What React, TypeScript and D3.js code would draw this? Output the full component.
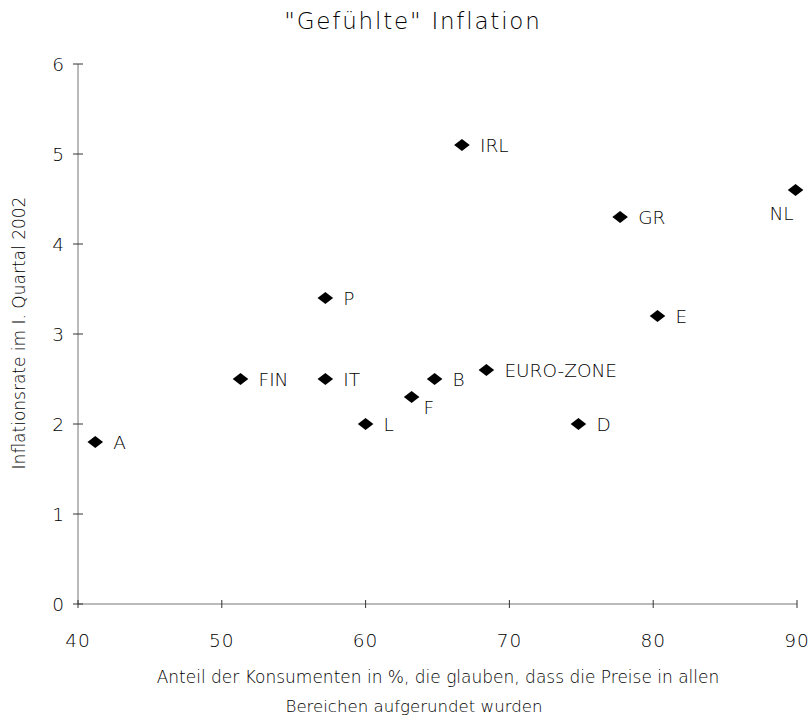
import React from "react";
import * as d3 from "d3";

const countries = ["A", "FIN", "IT", "P", "L", "F", "B", "EURO-ZONE", "IRL", "D", "GR", "E", "NL"];
const perceived = [41.2, 51.3, 57.2, 57.2, 60.0, 63.2, 64.8, 68.4, 66.7, 74.8, 77.7, 80.3, 89.9];
const inflation = [1.8, 2.5, 2.5, 3.4, 2.0, 2.3, 2.5, 2.6, 5.1, 2.0, 4.3, 3.2, 4.6];
const xTicks = [40, 50, 60, 70, 80, 90];
const yTicks = [0, 1, 2, 3, 4, 5, 6];

const FONT = "'DejaVu Sans', sans-serif";
const W = 200;

export default function App() {
  const x = d3.scaleLinear().domain([40, 90]).range([78, 797]);
  const y = d3.scaleLinear().domain([0, 6]).range([604, 64]);
  const diamond = d3.symbol().type(d3.symbolDiamond2).size(128)() as string;

  const labelPos = (name: string, px: number, py: number) => {
    if (name === "NL") return { lx: px - 2, ly: py + 30, anchor: "end" };
    if (name === "F") return { lx: px + 12, ly: py + 17, anchor: "start" };
    return { lx: px + 18, ly: py + 6.5, anchor: "start" };
  };

  return (
    <svg width={809} height={721} style={{ position: "absolute", left: 0, top: 0, background: "#fff" }}>
      <text x={413} y={29} textAnchor="middle" fontFamily={FONT} fontSize={23} fontWeight={W} letterSpacing={1.8} fill="#000">
        "Gefühlte" Inflation
      </text>
      {/* axes */}
      <line x1={x(40)} x2={x(90)} y1={y(0)} y2={y(0)} stroke="#777" strokeWidth={1} />
      <line x1={x(40)} x2={x(40)} y1={y(0)} y2={y(6)} stroke="#777" strokeWidth={1} />
      {xTicks.map((t) => (
        <g key={"x" + t}>
          <line x1={x(t)} x2={x(t)} y1={y(0) - 4} y2={y(0) + 4} stroke="#333" strokeWidth={1} />
          <text x={x(t)} y={y(0) + 43} textAnchor="middle" fontFamily={FONT} fontSize={18.5} fontWeight={W} letterSpacing={1} fill="#000">
            {t}
          </text>
        </g>
      ))}
      {yTicks.map((t) => (
        <g key={"y" + t}>
          <line x1={x(40) - 5} x2={x(40) + 5} y1={y(t)} y2={y(t)} stroke="#333" strokeWidth={1} />
          <text x={x(40) - 14} y={y(t) + 7} textAnchor="end" fontFamily={FONT} fontSize={18.5} fontWeight={W} fill="#000">
            {t}
          </text>
        </g>
      ))}
      <text
        transform="translate(25,333) rotate(-90)"
        textAnchor="middle"
        fontFamily={FONT}
        fontSize={17}
        fontWeight={W}
        fill="#000"
      >
        Inflationsrate im I. Quartal 2002
      </text>
      <text x={438} y={683} textAnchor="middle" fontFamily={FONT} fontSize={17} fontWeight={W} fill="#000">
        Anteil der Konsumenten in %, die glauben, dass die Preise in allen
      </text>
      <text x={414} y={712} textAnchor="middle" fontFamily={FONT} fontSize={16.6} fontWeight={W} fill="#000">
        Bereichen aufgerundet wurden
      </text>
      {countries.map((c, i) => {
        const px = x(perceived[i]);
        const py = y(inflation[i]);
        const lp = labelPos(c, px, py);
        return (
          <g key={c}>
            <path d={diamond} transform={`translate(${px},${py}) scale(1.1,0.85)`} fill="#000" />
            <text x={lp.lx} y={lp.ly} textAnchor={lp.anchor as any} fontFamily={FONT} fontSize={18.5} fontWeight={W} fill="#000">
              {c}
            </text>
          </g>
        );
      })}
    </svg>
  );
}
